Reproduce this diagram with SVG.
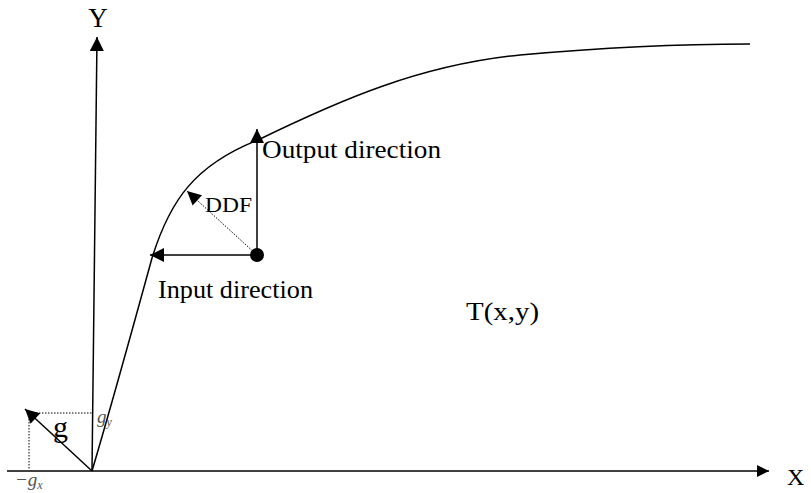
<svg xmlns="http://www.w3.org/2000/svg" width="811" height="493" viewBox="0 0 811 493">
<defs>
<marker id="ahb" viewBox="0 0 10 10" refX="10" refY="5" markerWidth="15" markerHeight="14" markerUnits="userSpaceOnUse" orient="auto"><path d="M0,0 L10,5 L0,10 z" fill="#000"/></marker>
<marker id="ahx" viewBox="0 0 10 10" refX="10" refY="5" markerWidth="16" markerHeight="12" markerUnits="userSpaceOnUse" orient="auto"><path d="M0,0 L10,5 L0,10 z" fill="#000"/></marker>
</defs>
<style>
.ln{stroke:#000;stroke-width:1.5;fill:none}
.dot{stroke:#000;stroke-width:1;stroke-dasharray:1.5 1.5;fill:none}
.t{font-family:"Liberation Serif",serif;fill:#000}
.g{font-family:"Liberation Serif",serif;fill:#555;font-style:italic}
</style>
<rect width="811" height="493" fill="#fff"/>
<g id="connectors">
<line class="ln" x1="7" y1="471" x2="769" y2="471" marker-end="url(#ahx)"/>
<line class="ln" x1="92" y1="471" x2="97" y2="37" marker-end="url(#ahb)"/>
<path class="ln" d="M92,471 C110,410 135,320 152,258 C170,200 195,165 258,140 C340,100 420,65 520,55 C620,46 700,44 750,44"/>
<line class="ln" x1="257" y1="255" x2="150" y2="255" marker-end="url(#ahb)"/>
<line class="ln" x1="257" y1="255" x2="257" y2="129" marker-end="url(#ahb)"/>
<line class="dot" x1="257" y1="255" x2="187" y2="191" marker-end="url(#ahb)"/>
<line class="ln" x1="92" y1="471" x2="25" y2="409" marker-end="url(#ahb)"/>
<line class="dot" x1="30" y1="413" x2="92" y2="413"/>
<line class="dot" x1="29" y1="413" x2="29" y2="470"/>
</g>
<g id="dot"><circle cx="257" cy="255" r="7" fill="#000"/></g>
<g id="labels">
<text class="t" x="98" y="27" font-size="27" text-anchor="middle">Y</text>
<text class="t" x="787" y="485" font-size="24">X</text>
<text class="t" x="262" y="158" font-size="25" textLength="179" lengthAdjust="spacingAndGlyphs">Output direction</text>
<text class="t" x="205" y="212" font-size="22" textLength="47" lengthAdjust="spacingAndGlyphs">DDF</text>
<text class="t" x="158" y="298" font-size="25" textLength="155" lengthAdjust="spacingAndGlyphs">Input direction</text>
<text class="t" x="466" y="320" font-size="25" textLength="73" lengthAdjust="spacingAndGlyphs">T(x,y)</text>
<text class="t" x="53" y="437" font-size="30">g</text>
<text class="g" x="97" y="423" font-size="19">g<tspan font-size="12" dy="3">y</tspan></text>
<text class="g" x="15" y="486" font-size="19">−g<tspan font-size="12" dy="3">x</tspan></text>
</g>
</svg>
